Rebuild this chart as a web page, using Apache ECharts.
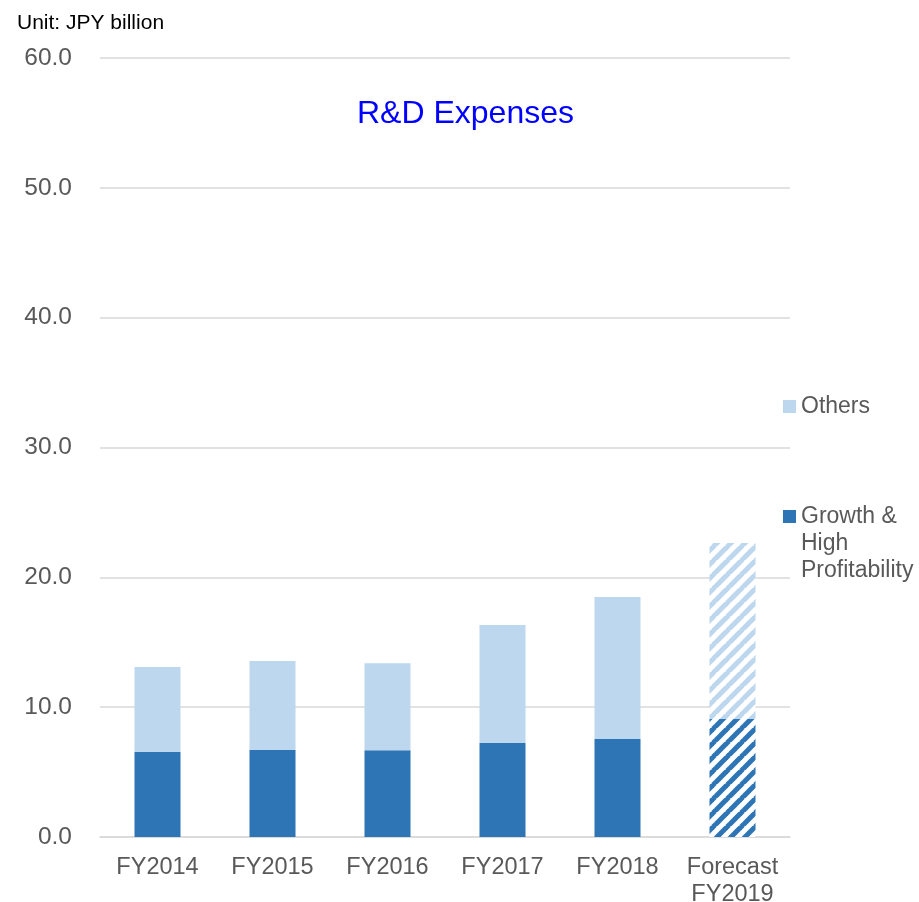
<!DOCTYPE html>
<html>
<head>
<meta charset="utf-8">
<script src="https://cdn.jsdelivr.net/npm/echarts@6/dist/echarts.min.js"></script>
<style>
  html, body { margin: 0; padding: 0; background: #ffffff; }
  #chart { width: 919px; height: 902px; }
</style>
</head>
<body>
<div id="chart"></div>
<script>
// R&D expenses by fiscal year, JPY billion
const categories = ['FY2014', 'FY2015', 'FY2016', 'FY2017', 'FY2018', 'Forecast\nFY2019'];
const growthValues = [6.56, 6.70, 6.68, 7.24, 7.55, 9.09];
const othersValues = [6.54, 6.86, 6.70, 9.09, 10.94, 13.56];
const forecastIndex = 5;

const DARK = '#2E75B6';
const LIGHT = '#BDD7EE';
const FONT = '"Liberation Sans", Arial, sans-serif';

// Diagonal "/" stripe tile used for forecast bars
function stripeTile(color) {
  const s = 14;
  const c = document.createElement('canvas');
  c.width = s; c.height = s;
  const ctx = c.getContext('2d');
  ctx.fillStyle = '#ffffff';
  ctx.fillRect(0, 0, s, s);
  ctx.strokeStyle = color;
  ctx.lineWidth = s * 0.36;
  for (let k = -1; k <= 1; k++) {
    ctx.beginPath();
    ctx.moveTo(k * s - 1, s + 1);
    ctx.lineTo(k * s + s + 1, -1);
    ctx.stroke();
  }
  return { image: c, repeat: 'repeat' };
}

function withForecast(values, color) {
  return values.map((v, i) => i === forecastIndex
    ? { value: v, itemStyle: { color: stripeTile(color) } }
    : v);
}

const chart = echarts.init(document.getElementById('chart'), null, { renderer: 'canvas' });

chart.setOption({
  animation: false,
  backgroundColor: '#ffffff',
  textStyle: { fontFamily: FONT },
  title: [
    {
      text: 'R&D Expenses',
      left: 357, top: 98, padding: 0,
      textStyle: { color: '#0000FF', fontSize: 32, fontWeight: 'normal', fontFamily: FONT }
    },
    {
      text: 'Unit: JPY billion',
      left: 17, top: 13, padding: 0,
      textStyle: { color: '#000000', fontSize: 21, fontWeight: 'normal', fontFamily: FONT }
    }
  ],
  legend: [
    {
      data: ['Others'],
      left: 783, top: 395, padding: 0,
      itemWidth: 13, itemHeight: 13, itemGap: 5,
      icon: 'rect',
      textStyle: { color: '#595959', fontSize: 23, fontFamily: FONT }
    },
    {
      data: ['Growth & High Profitability'],
      left: 783, top: 503, padding: 0,
      itemWidth: 13, itemHeight: 67,
      icon: 'path://M0,0h13v13h-13z M0,66.95h0.05v0.05h-0.05z',
      formatter: () => 'Growth &\nHigh\nProfitability',
      textStyle: { color: '#595959', fontSize: 23, lineHeight: 27, fontFamily: FONT }
    }
  ],
  grid: {
    left: 100, right: 129, top: 58, bottom: 65,
    containLabel: false, outerBoundsMode: 'none'
  },
  xAxis: {
    type: 'category',
    data: categories,
    axisLine: { show: true, lineStyle: { color: '#D9D9D9', width: 1.5 } },
    axisTick: { show: false },
    axisLabel: {
      color: '#595959', fontSize: 23.5, lineHeight: 27, margin: 17,
      fontFamily: FONT, interval: 0
    }
  },
  yAxis: {
    type: 'value',
    min: 0, max: 60, interval: 10,
    axisLine: { show: false },
    axisTick: { show: false },
    splitLine: { lineStyle: { color: '#D9D9D9', width: 1.5 } },
    axisLabel: {
      color: '#595959', fontSize: 24.5, margin: 28, fontFamily: FONT,
      padding: [4, 0, 0, 0],
      formatter: v => v.toFixed(1)
    }
  },
  series: [
    {
      name: 'Growth & High Profitability',
      type: 'bar',
      stack: 'total',
      barWidth: '40%',
      itemStyle: { color: DARK },
      emphasis: { disabled: true },
      data: withForecast(growthValues, DARK)
    },
    {
      name: 'Others',
      type: 'bar',
      stack: 'total',
      barWidth: '40%',
      itemStyle: { color: LIGHT },
      emphasis: { disabled: true },
      data: withForecast(othersValues, LIGHT)
    }
  ]
});
</script>
</body>
</html>
